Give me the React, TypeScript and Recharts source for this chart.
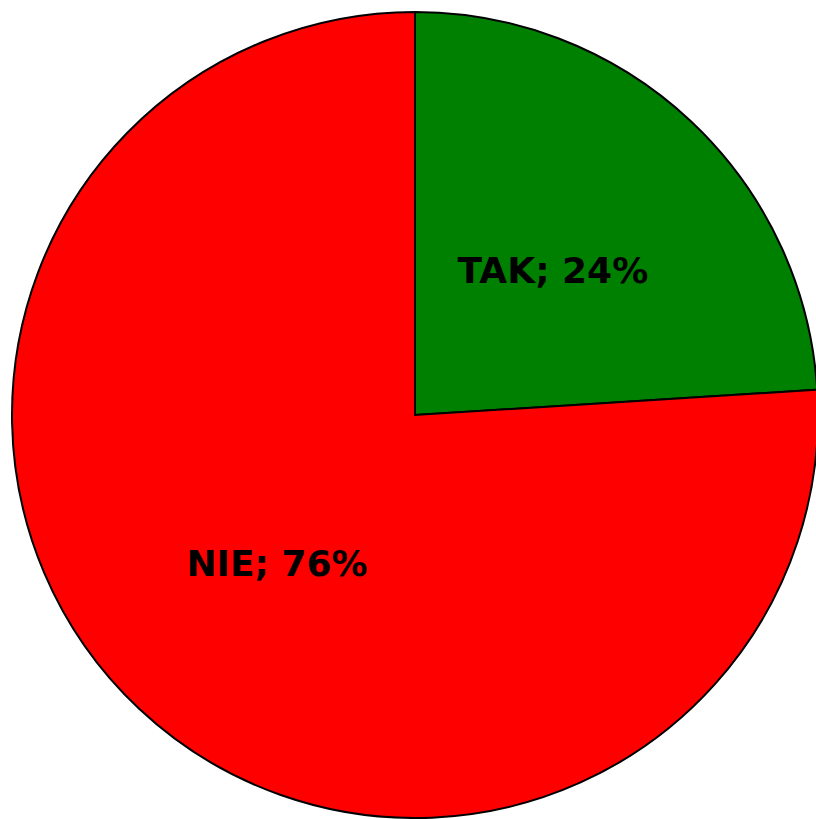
import { PieChart, Pie, Cell } from 'recharts';

const categories = ['TAK', 'NIE'];
const shares = [24, 76];
const colors = ['#008000', '#ff0000'];

const data = categories.map((name, i) => ({ name, value: shares[i] }));

const RADIAN = Math.PI / 180;

function renderLabel(props: any) {
  const { cx, cy, midAngle, outerRadius, index } = props;
  const r = outerRadius * 0.5;
  const x = cx + r * Math.cos(-midAngle * RADIAN);
  const y = cy + r * Math.sin(-midAngle * RADIAN);
  return (
    <text
      x={x}
      y={y + 2}
      textAnchor="middle"
      dominantBaseline="central"
      fill="#000"
      fontFamily="DejaVu Sans"
      fontWeight="bold"
      fontSize={36}
    >
      {`${data[index].name}; ${data[index].value}%`}
    </text>
  );
}

export default function App() {
  return (
    <div style={{ position: 'absolute', left: 0, top: 0, background: '#fff' }}>
      <PieChart width={816} height={819} margin={{ top: 0, right: 0, bottom: 0, left: 0 }}>
        <Pie
          data={data}
          dataKey="value"
          cx={415}
          cy={415}
          outerRadius={403}
          startAngle={90}
          endAngle={-270}
          stroke="#000"
          strokeWidth={2}
          label={renderLabel}
          labelLine={false}
          isAnimationActive={false}
        >
          {data.map((d, i) => (
            <Cell key={d.name} fill={colors[i]} />
          ))}
        </Pie>
      </PieChart>
    </div>
  );
}
